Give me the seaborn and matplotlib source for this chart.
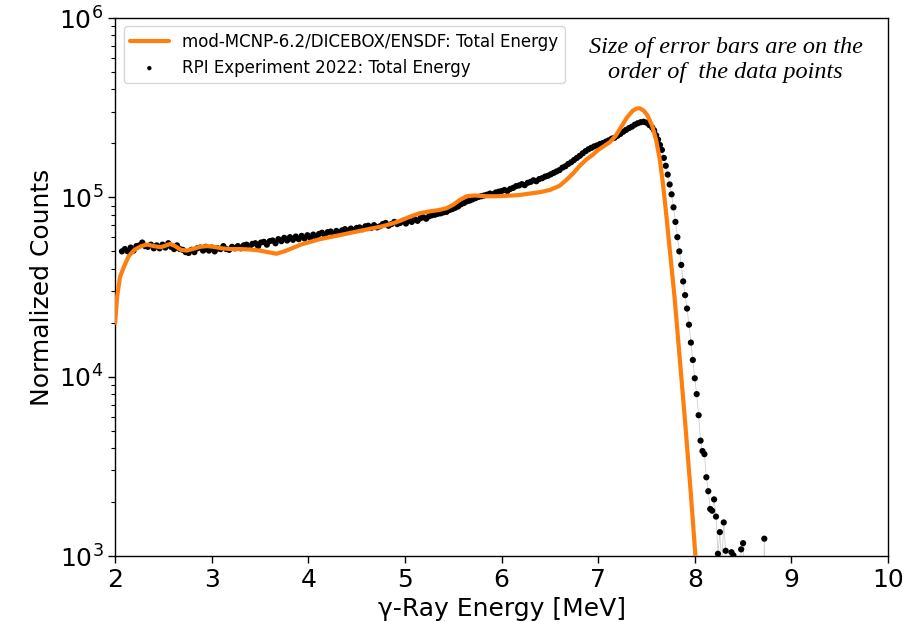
import numpy as np
import pandas as pd
import matplotlib
matplotlib.use("Agg")
import matplotlib.pyplot as plt
import seaborn as sns

# ---------------- data (counts in thousands) ----------------
# Experiment, bulk region: bins of 0.03 MeV starting at 2.07 MeV
exp_bulk_start = 2.07
exp_bulk_step = 0.03
exp_bulk_k = [
    50, 51.5, 50, 52.5, 50.5, 53.5, 54, 56, 53.5, 53,
    54.5, 52, 54, 52, 54.5, 52.5, 55.5, 53, 51.5, 54,
    51.5, 51, 49.5, 49, 51, 49.5, 52, 52.5, 50.5, 53,
    50.5, 52.5, 50, 52, 51.5, 53.5, 51.5, 51, 53, 52,
    53.5, 52, 54, 54.5, 52.5, 55, 55.5, 53.5, 56, 56.5,
    54.5, 57, 57.5, 55.5, 58.5, 57, 59.5, 57.5, 60, 58,
    60.5, 58.5, 61, 59, 61.5, 59.5, 62, 60, 62.5, 63.5,
    61.5, 64, 64.5, 62.5, 65, 63.5, 65.5, 66.5, 64.5, 67,
    65.5, 67.5, 68, 66.5, 69, 69.5, 67.5, 70, 68, 69,
    71, 72, 69.5, 71, 73, 71, 72, 74, 71.5, 74.5,
    73, 75.5, 74, 76.5, 77.5, 76, 78.5, 79.5, 80, 81,
    81.5, 82.5, 83, 85, 86, 87.5, 89, 91.5, 93, 95,
    96, 97.5, 99, 100.5, 101.5, 102.5, 103.5, 105, 104, 106.5,
    107.5, 108.5, 110, 108.5, 111.5, 113, 115.5, 116.5, 118.5, 117,
    120.5, 122, 124.5, 123, 126.5, 128, 130.5, 132, 134.5, 137,
    139.5, 142, 146.5, 149, 153.5, 157, 161.5, 166, 170.5, 176,
    181, 185.5, 189, 192.5, 195, 198.5, 201, 204.5, 208, 212.5,
    215, 220.5, 226, 232.5, 238, 243.5, 248, 254.5, 259, 262.5,
    264, 261, 253, 245,
]
# Experiment, falling edge and tail
exp_tail_energy = [
    7.58, 7.60, 7.62, 7.64, 7.66, 7.68, 7.70, 7.72, 7.74, 7.76,
    7.78, 7.80, 7.82, 7.84, 7.86, 7.88, 7.90, 7.92, 7.94, 7.96,
    7.98, 8.00, 8.02, 8.04, 8.06, 8.08, 8.10, 8.12, 8.14, 8.16,
    8.18, 8.20, 8.22, 8.24, 8.26, 8.28, 8.30, 8.32, 8.34, 8.36,
    8.38, 8.40, 8.42, 8.44, 8.46, 8.48, 8.50, 8.52, 8.54, 8.56,
    8.58, 8.60, 8.62, 8.64, 8.66, 8.68, 8.70, 8.72, 8.74, 8.76,
    8.78,
]
exp_tail_k = [
    236, 222, 210, 196, 184, 166, 150, 134, 118, 104,
    88, 73, 60, 50, 42, 34, 28.5, 24, 19.5, 15.5,
    12.4, 9.8, 8.0, 6.1, 4.4, 3.85, 3.7, 2.75, 2.3, 1.83,
    1.79, 2.07, 1.66, 1.03, 1.36, 0.85, 1.54, 1.07, 0.78, 0.65,
    1.05, 1.01, 0.62, 0.72, 0.55, 1.09, 1.18, 0.6, 0.45, 0.5,
    0.4, 0.35, 0.45, 0.3, 0.35, 0.4, 0.3, 1.25, 0.3, 0.25,
    0.3,
]

# Simulation (mod-MCNP-6.2/DICEBOX/ENSDF)
sim_energy = [
    2.00, 2.02, 2.05, 2.09, 2.14, 2.20, 2.27, 2.33, 2.40, 2.47,
    2.53, 2.57, 2.62, 2.68, 2.74, 2.80, 2.88, 2.95, 3.02, 3.10,
    3.20, 3.30, 3.40, 3.50, 3.58, 3.67, 3.75, 3.83, 3.92, 4.02,
    4.12, 4.22, 4.35, 4.50, 4.62, 4.74, 4.85, 4.95, 5.05, 5.15,
    5.25, 5.35, 5.43, 5.50, 5.57, 5.64, 5.72, 5.84, 5.95, 6.05,
    6.18, 6.29, 6.40, 6.50, 6.60, 6.67, 6.74, 6.81, 6.88, 6.94,
    7.00, 7.06, 7.12, 7.18, 7.24, 7.30, 7.36, 7.40, 7.43, 7.47,
    7.51, 7.56, 7.60, 7.64, 7.67, 7.70, 7.74, 7.79, 7.84, 7.90,
    7.96, 8.01, 8.05,
]
sim_k = [
    20, 28, 36, 41, 47, 51, 53.5, 54.6, 53.5, 52.7,
    54, 55, 53.5, 51, 50.5, 51.5, 53, 53.5, 53, 52,
    51.5, 51.5, 51.2, 50.5, 49.5, 48.5, 50, 52, 54.5, 56.5,
    58.5, 60, 62, 64.5, 66.5, 68.5, 71, 74, 78, 81.5,
    83.5, 85, 87, 91, 97, 101.5, 102.5, 101.5, 101.5, 102,
    103, 105, 107, 110, 116, 125, 136, 150, 163, 172,
    184, 193, 203, 220, 248, 280, 305, 313, 314, 305,
    287, 250, 209, 160, 120, 85, 52, 28, 13.5, 5.6,
    2.2, 0.95, 0.5,
]

sim_label = "mod-MCNP-6.2/DICEBOX/ENSDF: Total Energy"
exp_label = "RPI Experiment 2022: Total Energy"
note_text = "Size of error bars are on the\norder of  the data points"
x_label = "\u03b3-Ray Energy [MeV]"
y_label = "Normalized Counts"

# ---------------- assemble ----------------
exp_bulk_energy = [round(exp_bulk_start + exp_bulk_step * i, 2) for i in range(len(exp_bulk_k))]
exp_df = pd.DataFrame({
    "energy": exp_bulk_energy + exp_tail_energy,
    "counts": [v * 1000 for v in exp_bulk_k + exp_tail_k],
})
sim_df = pd.DataFrame({"energy": sim_energy, "counts": [v * 1000 for v in sim_k]})

sns.set_theme(style="ticks", rc={"text.color": "black", "axes.labelcolor": "black",
                                 "xtick.color": "black", "ytick.color": "black",
                                 "axes.edgecolor": "black"})
plt.rcParams["font.family"] = ["DejaVu Sans"]

fig = plt.figure(figsize=(9.07, 6.22), dpi=100)
ax = fig.add_axes([0.127, 0.106, 0.852, 0.865])

# thin connecting line of the experimental points
sns.lineplot(data=exp_df, x="energy", y="counts", ax=ax, color="#d0d0d0",
             linewidth=0.6, sort=False, estimator=None, legend=False, zorder=1)
sns.lineplot(data=sim_df, x="energy", y="counts", ax=ax, color="#ff7f0e",
             linewidth=3, sort=False, estimator=None, label=sim_label, zorder=3)
sns.scatterplot(data=exp_df, x="energy", y="counts", ax=ax, color="black",
                s=20, edgecolor="none", label=exp_label, zorder=2)

ax.set_yscale("log")
ax.set_xlim(2, 10)
ax.set_ylim(1e3, 1e6)
ax.set_xticks([2, 3, 4, 5, 6, 7, 8, 9, 10])
ax.set_xlabel(x_label, fontsize=18)
ax.set_ylabel(y_label, fontsize=18)
ax.tick_params(axis="both", which="major", labelsize=18, length=5, width=1,
               color="black", labelcolor="black", direction="out")
ax.tick_params(axis="y", which="minor", length=3, width=0.8, color="black")
for sp in ax.spines.values():
    sp.set_visible(True)
    sp.set_color("black")
    sp.set_linewidth(1.0)

leg = ax.legend(loc="upper left", fontsize=12, frameon=True, borderpad=0.4,
                handlelength=2.3, labelspacing=0.45, markerscale=0.7)
leg.get_frame().set_edgecolor("#cccccc")

ax.text(0.79, 0.922, note_text, transform=ax.transAxes, ha="center", va="center",
        fontsize=17.5, style="italic", family=["Liberation Serif", "DejaVu Serif"],
        linespacing=1.25, color="black")

fig.savefig("out.png", dpi=100)
